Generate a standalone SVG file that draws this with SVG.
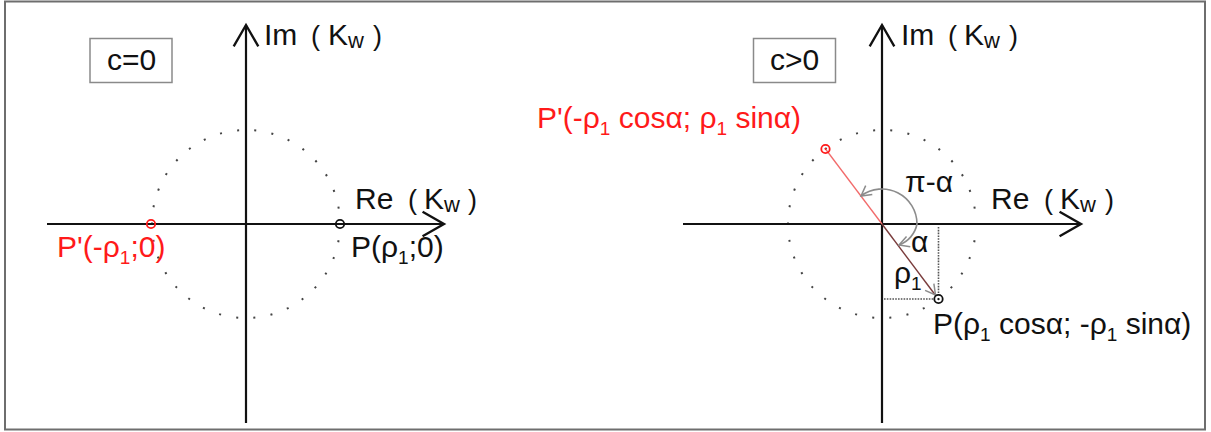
<svg xmlns="http://www.w3.org/2000/svg" width="1211" height="432" viewBox="0 0 1211 432">
<style>
text{font-family:"Liberation Sans",Arial,sans-serif;font-size:30px;fill:#111}
.red{fill:#ff1a1a}
.sub{font-size:19px}
.subw{font-size:22px}
.par{font-size:27px}
.axis{stroke:#111;stroke-width:2.2;fill:none}
.dots{fill:none;stroke:#444;stroke-width:2;stroke-dasharray:2 15.37;stroke-dashoffset:1}
.box{fill:#fff;stroke:#8a8a8a;stroke-width:1.5}
.pt{fill:none;stroke-width:1.8}
.proj{stroke:#555;stroke-width:1.6;stroke-dasharray:1.6 1.2;fill:none}
.arc{stroke:#8c8c8c;stroke-width:1.6;fill:none}
</style>
<defs>
<marker id="ah" markerUnits="userSpaceOnUse" markerWidth="30" markerHeight="30" viewBox="-22 -14 24 28" refX="0" refY="0" orient="auto" overflow="visible">
<path d="M-20,-11.5 L0,0 L-20,11.5" fill="none" stroke="#111" stroke-width="2.2"/>
</marker>
<marker id="sm" markerUnits="userSpaceOnUse" markerWidth="14" markerHeight="14" viewBox="-11 -7 12 14" refX="0" refY="0" orient="auto-start-reverse" overflow="visible">
<path d="M-10,-5.5 L0,0 L-10,5.5" fill="none" stroke="#8c8c8c" stroke-width="1.5"/>
</marker>
</defs>
<rect x="0" y="0" width="1211" height="432" fill="#fff"/>
<rect id="frame" x="5" y="1.5" width="1200" height="428" fill="none" stroke="#6e6e6e" stroke-width="2"/>

<g id="connectors">
<circle class="dots" cx="246" cy="224" r="94"/>
<circle class="dots" cx="882" cy="224" r="94"/>
<line class="axis" x1="246" y1="423" x2="246" y2="25" marker-end="url(#ah)"/>
<line class="axis" x1="47" y1="224" x2="444" y2="224" marker-end="url(#ah)"/>
<line class="axis" x1="882" y1="423" x2="882" y2="25" marker-end="url(#ah)"/>
<line class="axis" x1="683" y1="224" x2="1081" y2="224" marker-end="url(#ah)"/>
<path class="proj" d="M938.5,227 V295 M884,299 H934"/>
<line x1="825.5" y1="149" x2="882" y2="224" stroke="#f26b6b" stroke-width="1.3"/>
<line x1="882" y1="224" x2="936" y2="296" stroke="#7a3c3c" stroke-width="1.4"/>
<path d="M882,224 L935.5,295" stroke="#7a3c3c" stroke-opacity="0" fill="none" marker-end="url(#sm)"/>
<path class="arc" d="M861,196 A35,35 0 0 1 917,224 A28,28 0 0 1 899,245" marker-start="url(#sm)" marker-end="url(#sm)"/>
</g>

<g id="box-c0">
<rect class="box" x="90" y="38.5" width="82" height="44"/>
<text x="107" y="70">c=0</text>
</g>
<g id="box-cpos">
<rect class="box" x="753.5" y="38.5" width="82" height="44"/>
<text x="770" y="70">c&gt;0</text>
</g>

<g id="label-im-left"><text y="45"><tspan x="264">Im</tspan><tspan class="par" x="311">(</tspan><tspan x="328">K</tspan><tspan class="subw" dy="3">w</tspan><tspan class="par" dy="-3" x="373">)</tspan></text></g>
<g id="label-re-left"><text y="209"><tspan x="355">Re</tspan><tspan class="par" x="408">(</tspan><tspan x="424">K</tspan><tspan class="subw" dy="3">w</tspan><tspan class="par" dy="-3" x="468">)</tspan></text></g>
<g id="label-im-right"><text y="45"><tspan x="901">Im</tspan><tspan class="par" x="948">(</tspan><tspan x="964">K</tspan><tspan class="subw" dy="3">w</tspan><tspan class="par" dy="-3" x="1009">)</tspan></text></g>
<g id="label-re-right"><text y="209"><tspan x="991">Re</tspan><tspan class="par" x="1044">(</tspan><tspan x="1060">K</tspan><tspan class="subw" dy="3">w</tspan><tspan class="par" dy="-3" x="1105">)</tspan></text></g>

<g id="point-pprime-left">
<circle class="pt" cx="151" cy="224" r="4.2" stroke="#ff1a1a"/>
<text class="red" x="57" y="257">P'(-ρ<tspan class="sub" dy="7">1</tspan><tspan dy="-7">;0)</tspan></text>
</g>
<g id="point-p-left">
<circle class="pt" cx="340" cy="224" r="4.2" stroke="#111"/>
<text x="351" y="257">P(ρ<tspan class="sub" dy="7">1</tspan><tspan dy="-7">;0)</tspan></text>
</g>

<g id="point-pprime-right">
<circle class="pt" cx="825.5" cy="149" r="4.2" stroke="#ff1a1a"/>
<circle cx="825.5" cy="149" r="0.9" fill="#ff1a1a"/>
<text class="red" x="537" y="128">P'(-ρ<tspan class="sub" dy="7">1</tspan><tspan dy="-7"> cosα; ρ</tspan><tspan class="sub" dy="7">1</tspan><tspan dy="-7"> sinα)</tspan></text>
</g>
<g id="point-p-right">
<circle class="pt" cx="938.5" cy="299" r="4.2" stroke="#111"/>
<circle cx="938.5" cy="299" r="0.9" fill="#111"/>
<text x="933" y="334">P(ρ<tspan class="sub" dy="7">1</tspan><tspan dy="-7"> cosα; -ρ</tspan><tspan class="sub" dy="7">1</tspan><tspan dy="-7"> sinα)</tspan></text>
</g>

<g id="angle-labels">
<text x="905" y="192">π-α</text>
<text x="911" y="252">α</text>
<text x="894" y="283">ρ<tspan class="sub" dy="7">1</tspan></text>
</g>
</svg>
